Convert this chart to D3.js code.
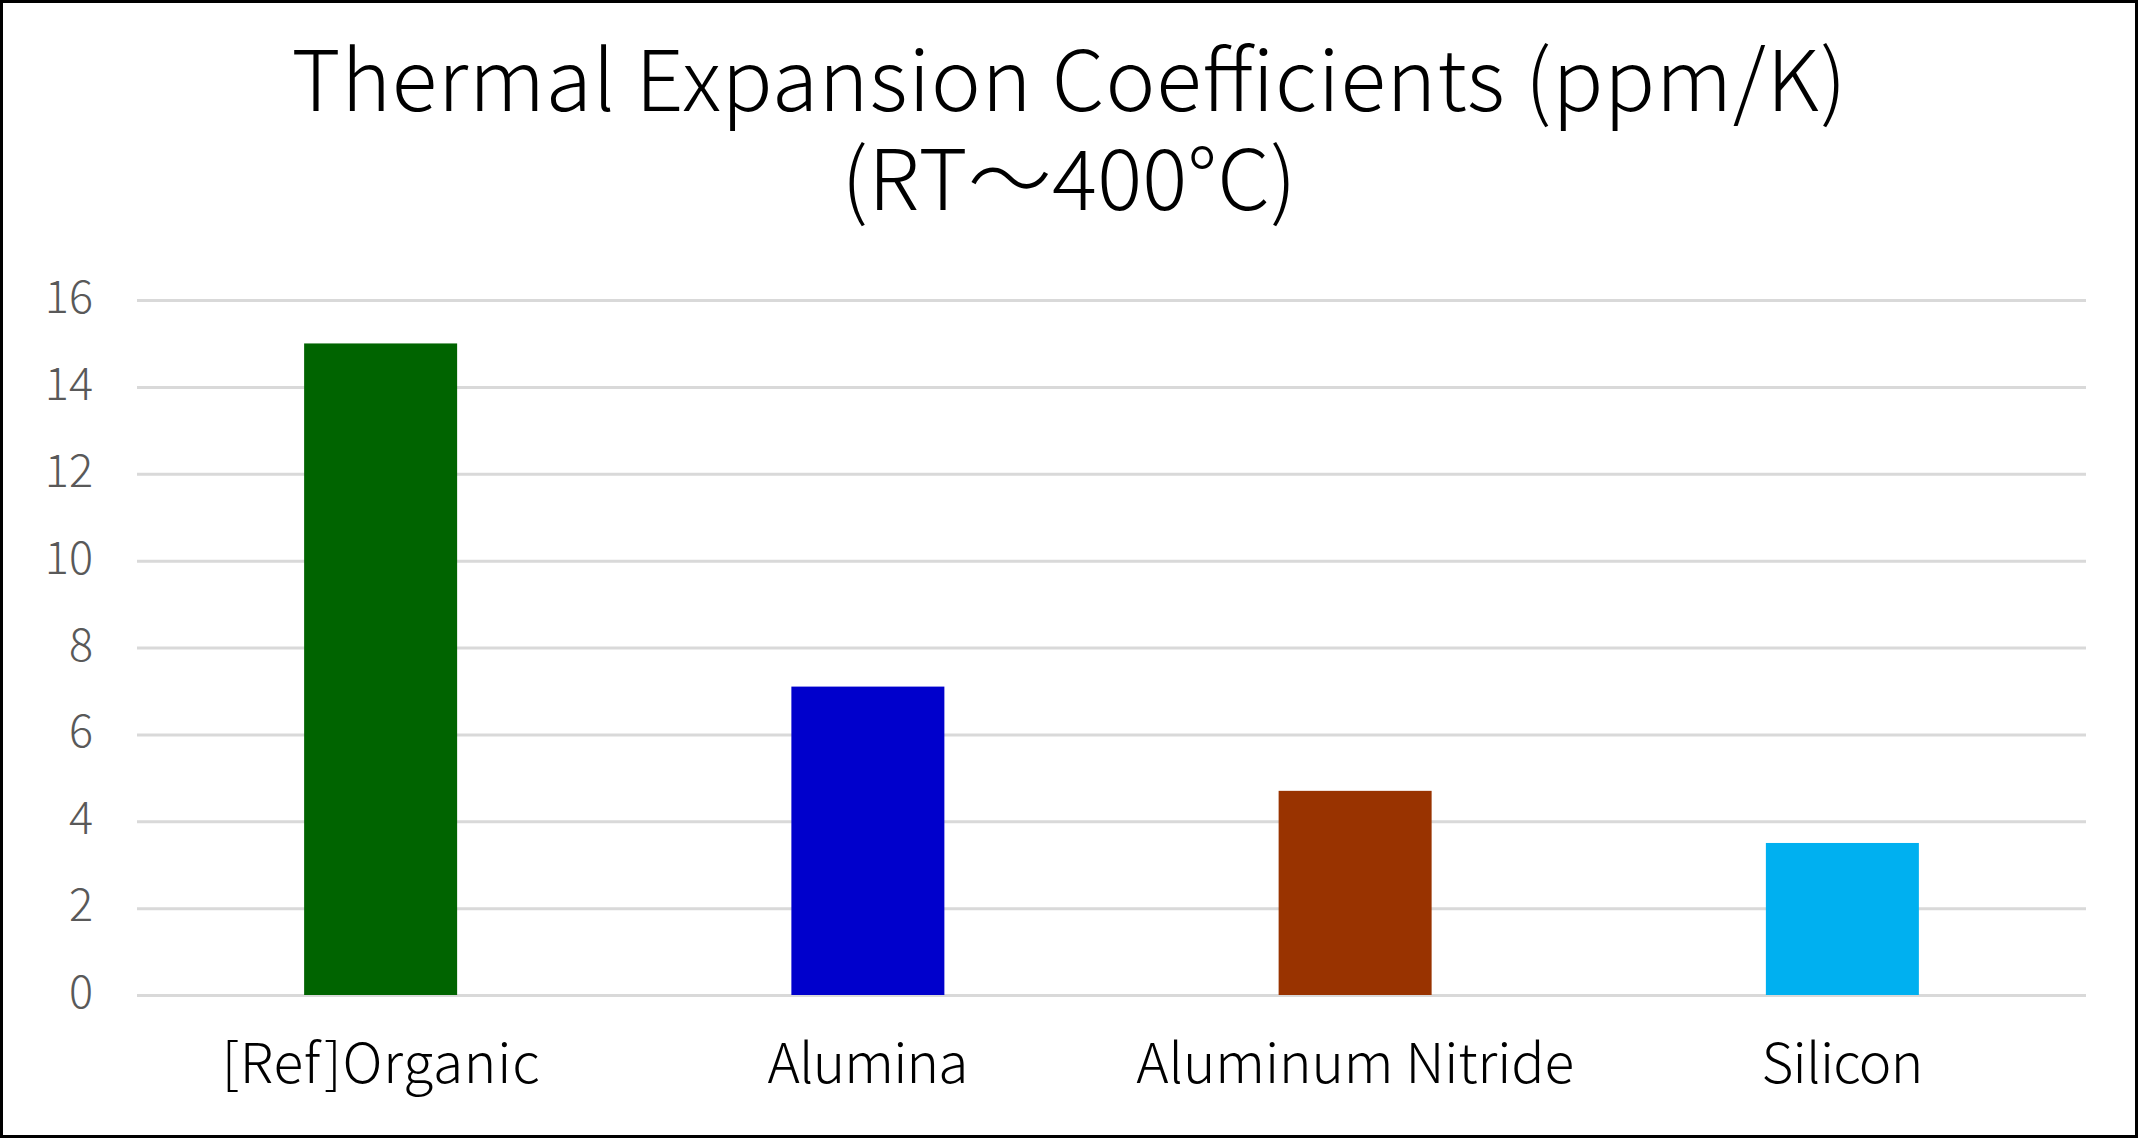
<!DOCTYPE html>
<html>
<head>
<meta charset="utf-8">
<script src="https://cdn.jsdelivr.net/npm/d3@7"></script>
<style>
  html, body { margin: 0; padding: 0; background: #fff; }
  svg { display: block; }
  text { font-family: "Noto Sans CJK JP", "Noto Sans", sans-serif; font-weight: 300; }
</style>
</head>
<body>
<script>
const categories = ["[Ref]Organic", "Alumina", "Aluminum Nitride", "Silicon"];
const values = [15, 7.1, 4.7, 3.5];
const barColors = ["#006400", "#0000CC", "#993300", "#00B0F0"];
const tickValues = [0, 2, 4, 6, 8, 10, 12, 14, 16];
const titleLines = ["Thermal Expansion Coefficients (ppm/K)", "(RT～400°C)"];
const labelWidths = [318, 201, 438, 162];

const W = 2138, H = 1138;
const margin = { left: 137, right: 52, top: 300, bottom: 143 };
const FONT = '"Noto Sans CJK JP", "Noto Sans", sans-serif';

const svg = d3.select("body").append("svg")
  .attr("width", W).attr("height", H);

svg.append("rect").attr("x", 0).attr("y", 0).attr("width", W).attr("height", H)
  .attr("fill", "#fff");

const x = d3.scaleBand()
  .domain(categories)
  .range([margin.left, W - margin.right])
  .paddingInner(0.686)
  .paddingOuter(0.343);

const y = d3.scaleLinear()
  .domain([0, 16])
  .range([H - margin.bottom, margin.top]);

// gridlines
const grid = d3.axisLeft(y).tickValues(tickValues)
  .tickSize(-(W - margin.right - margin.left)).tickFormat("");
const gg = svg.append("g").attr("transform", `translate(${margin.left},0)`).call(grid);
gg.select(".domain").remove();
gg.selectAll(".tick line").attr("stroke", "#d9d9d9").attr("stroke-width", 3);

// y tick labels
const yAxis = d3.axisLeft(y).tickValues(tickValues).tickSize(0).tickPadding(0);
const ya = svg.append("g").attr("transform", `translate(93,0)`).call(yAxis);
ya.select(".domain").remove();
ya.selectAll(".tick text")
  .attr("font-family", FONT)
  .attr("font-weight", 300)
  .attr("font-size", 45)
  .attr("fill", "#595959")
  .attr("dy", "0.28em");

// bars
svg.append("g").selectAll("rect").data(values).join("rect")
  .attr("x", (d, i) => x(categories[i]))
  .attr("width", x.bandwidth())
  .attr("y", d => y(d))
  .attr("height", d => y(0) - y(d))
  .attr("fill", (d, i) => barColors[i]);

// x labels
const xAxis = d3.axisBottom(x).tickSize(0).tickPadding(0);
const xa = svg.append("g").attr("transform", `translate(0,${y(0)})`).call(xAxis);
xa.select(".domain").remove();
xa.selectAll(".tick text")
  .attr("font-family", FONT)
  .attr("font-weight", 300)
  .attr("font-size", 55)
  .attr("fill", "#000")
  .attr("dy", null)
  .attr("y", 88)
  .attr("textLength", (d, i) => labelWidths[i])
  .attr("lengthAdjust", "spacing");

// title (one text element, two lines)
const titleWidths = [1555, 455];
const titleY = [111, 210];
const title = svg.append("text")
  .attr("text-anchor", "middle")
  .attr("font-size", 84)
  .attr("font-weight", 300)
  .attr("fill", "#000");
title.selectAll("tspan").data(titleLines).join("tspan")
  .attr("x", W / 2)
  .attr("y", (d, i) => titleY[i])
  .attr("textLength", (d, i) => titleWidths[i])
  .attr("lengthAdjust", "spacing")
  .text(d => d);

// border
svg.append("rect").attr("x", 1.5).attr("y", 1.5)
  .attr("width", W - 3).attr("height", H - 3)
  .attr("fill", "none").attr("stroke", "#000").attr("stroke-width", 3);
</script>
</body>
</html>
